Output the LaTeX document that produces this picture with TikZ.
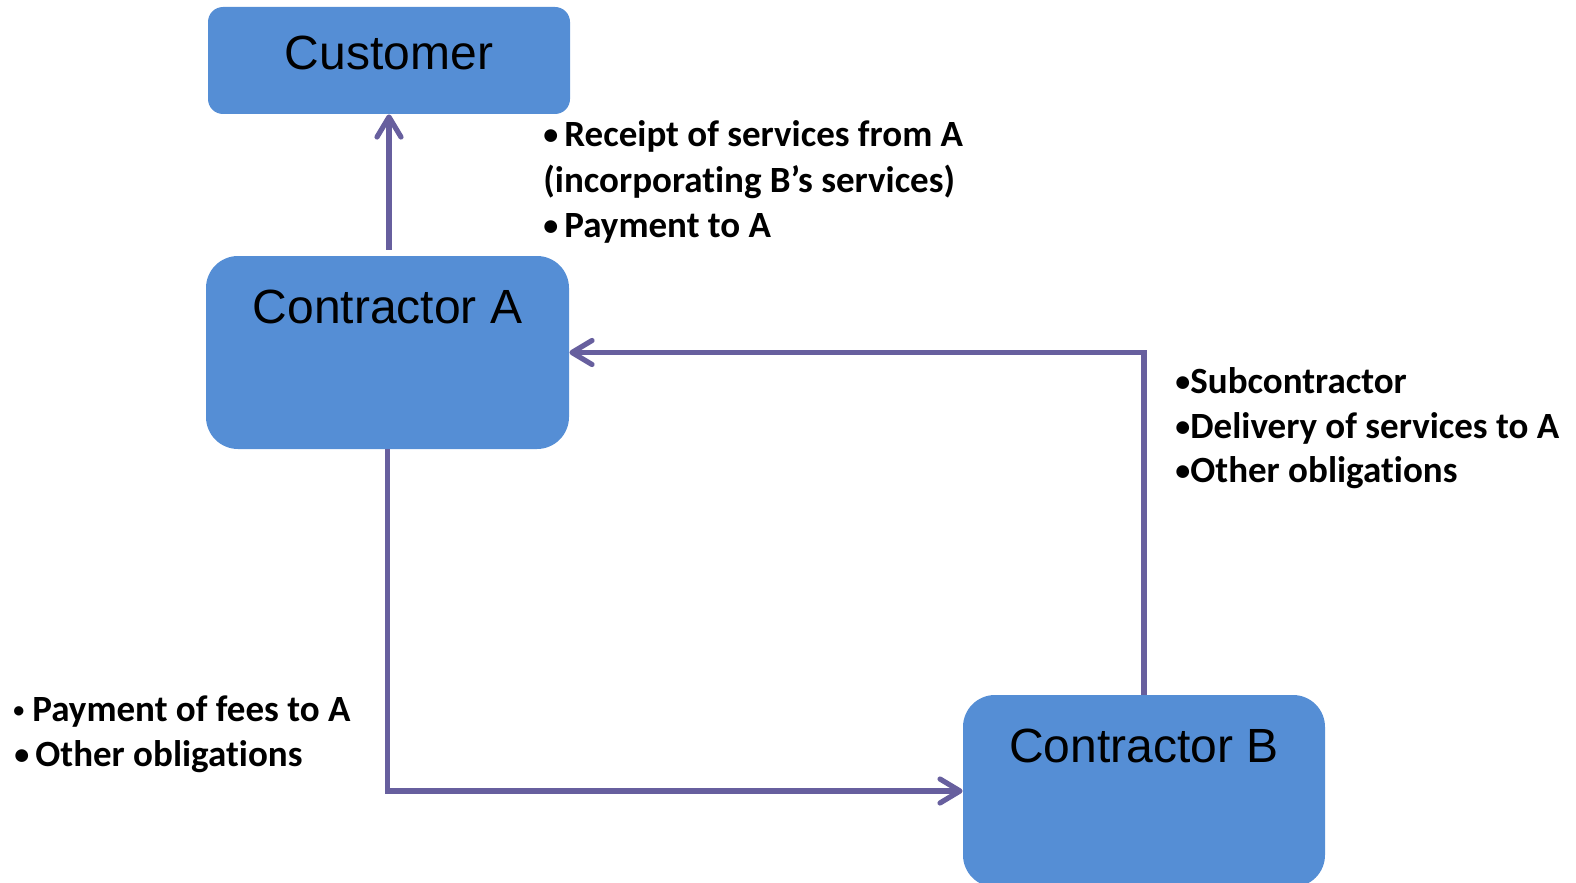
\documentclass[tikz,border=0pt]{standalone}
\usepackage{fontspec}
\setmainfont{Liberation Sans}
\newfontfamily\notefont[Ligatures=NoCommon]{Carlito}
\usetikzlibrary{arrows.meta}
\definecolor{boxblue}{RGB}{85,142,213}
\definecolor{linkpurple}{RGB}{103,95,158}
% bullet of a given size in a box of a given width
\newcommand{\notebullet}[3]{\makebox[#1][l]{\raisebox{#3}{\fontsize{#2}{#2}\selectfont •}}}
\begin{document}
\begin{tikzpicture}[x=0.5pt,y=-0.5pt,
  party/.style={fill=boxblue, draw=none, inner sep=0pt, rounded corners=16pt,
    minimum width=181.5pt, minimum height=96.5pt},
  partyname/.style={anchor=base, inner sep=0pt, font=\fontsize{24}{28}\selectfont},
  note/.style={anchor=base west, inner sep=0pt,
    font=\notefont\bfseries\fontsize{18.5}{22}\selectfont},
  link/.style={draw=linkpurple, line width=2.6pt,
    -{Straight Barb[length=10pt,width=12pt,round]}}
]
\useasboundingbox (0,0) rectangle (1576,883);

% parties
\node[party, minimum width=181pt, minimum height=53.5pt, rounded corners=7.5pt] (cust) at (389,60.5) {};
\node[party] (ca) at (387.5,352.5) {};
\node[party, minimum width=181pt, minimum height=96pt] (cb) at (1144,791) {};

\node[partyname] (custname) at (389,70) {Customer};
\node[partyname] (caname) at (387.5,323) {Contractor A};
\node[partyname] (cbname) at (1144,762) {Contractor B};

% contract links
\path (ca.north -| cust.south) ++(0,-6) coordinate (caup);
\draw[link] (caup) -- (cust.south);
\draw[link] (cb.north) |- (ca.east);
\draw[link] (ca.south) |- (cb.west);

% obligations of each party
\node[note] (n1a) at (543,147) {\notebullet{10.5pt}{15}{1pt}Receipt of services from A};
\node[note] (n1b) at (543,192) {(incorporating B’s services)};
\node[note] (n1c) at (543,237) {\notebullet{10.5pt}{15}{1pt}Payment to A};

\node[note] (n2a) at (1175,393) {\notebullet{7.5pt}{15}{1pt}Subcontractor};
\node[note] (n2b) at (1175,438) {\notebullet{7.5pt}{15}{1pt}Delivery of services to A};
\node[note] (n2c) at (1175,482) {\notebullet{7.5pt}{15}{1pt}Other obligations};

\node[note] (n3a) at (13,721) {\notebullet{9.5pt}{11}{2pt}Payment of fees to A};
\node[note] (n3b) at (14,766) {\notebullet{10.5pt}{15}{1pt}Other obligations};
\end{tikzpicture}
\end{document}
